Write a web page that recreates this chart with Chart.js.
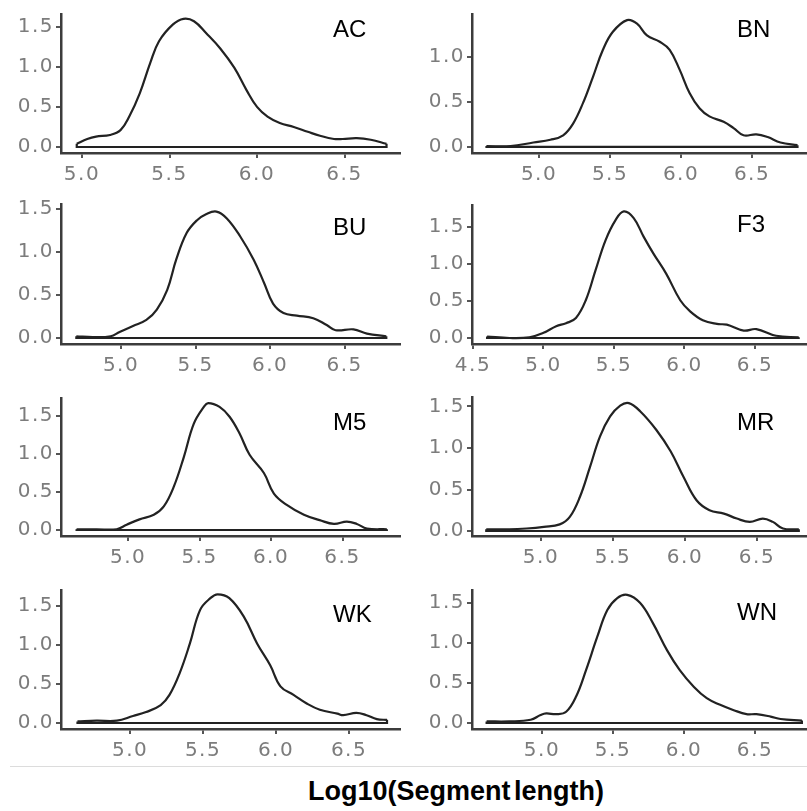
<!DOCTYPE html>
<html>
<head>
<meta charset="utf-8">
<script src="https://cdn.jsdelivr.net/npm/chart.js@4"></script>
<style>
  body { margin: 0; background: #fff; width: 807px; height: 811px; position: relative; overflow: hidden; }
  canvas.panel { position: absolute; }
  .lab { position: absolute; font: 24px "Liberation Sans", Arial, sans-serif; line-height: 24px; color: #000; white-space: nowrap; }
  #xtitle { position: absolute; left: 308px; top: 778px; font: bold 27px "Liberation Sans", Arial, sans-serif; line-height: 27px; word-spacing: -4px; color: #000; white-space: nowrap; }
  #rule { position: absolute; left: 10px; top: 766px; width: 797px; height: 1px; background: #dcdcdc; }
</style>
</head>
<body>
<div id="rule"></div>
<div id="xtitle">Log10(Segment length)</div>

<script>
// density curves per sample
const panelNames = ['AC', 'BN', 'BU', 'F3', 'M5', 'MR', 'WK', 'WN'];

const xAC = [4.97, 5.03, 5.08, 5.16, 5.22, 5.27, 5.33, 5.39, 5.44, 5.52, 5.58, 5.64, 5.71, 5.79, 5.87, 5.94, 6.00, 6.06, 6.13, 6.21, 6.29, 6.36, 6.44, 6.49, 6.57, 6.65, 6.74];
const yAC = [0.04, 0.10, 0.13, 0.15, 0.21, 0.38, 0.67, 1.05, 1.32, 1.53, 1.60, 1.57, 1.42, 1.23, 0.99, 0.71, 0.50, 0.38, 0.30, 0.25, 0.19, 0.14, 0.10, 0.10, 0.11, 0.09, 0.04];

const xBN = [4.63, 4.80, 4.96, 5.08, 5.17, 5.24, 5.31, 5.38, 5.45, 5.52, 5.62, 5.69, 5.76, 5.85, 5.92, 5.99, 6.06, 6.13, 6.20, 6.30, 6.37, 6.44, 6.53, 6.61, 6.70, 6.82];
const yBN = [0.01, 0.01, 0.05, 0.08, 0.13, 0.26, 0.49, 0.78, 1.08, 1.28, 1.41, 1.37, 1.24, 1.17, 1.08, 0.86, 0.60, 0.43, 0.34, 0.28, 0.21, 0.13, 0.14, 0.11, 0.05, 0.02];

const xBU = [4.70, 4.81, 4.93, 4.99, 5.08, 5.17, 5.24, 5.31, 5.37, 5.44, 5.51, 5.57, 5.64, 5.71, 5.80, 5.89, 5.96, 6.02, 6.09, 6.18, 6.29, 6.38, 6.44, 6.56, 6.65, 6.78];
const yBU = [0.02, 0.01, 0.02, 0.07, 0.14, 0.21, 0.33, 0.56, 0.91, 1.22, 1.37, 1.44, 1.47, 1.39, 1.18, 0.91, 0.64, 0.40, 0.29, 0.26, 0.23, 0.15, 0.09, 0.10, 0.05, 0.02];

const xF3 = [4.60, 4.76, 4.90, 5.00, 5.09, 5.16, 5.23, 5.30, 5.37, 5.44, 5.51, 5.57, 5.64, 5.71, 5.78, 5.87, 5.97, 6.04, 6.13, 6.23, 6.30, 6.42, 6.51, 6.65, 6.81];
const yF3 = [0.02, 0.00, 0.01, 0.07, 0.16, 0.20, 0.27, 0.51, 0.92, 1.32, 1.59, 1.71, 1.62, 1.37, 1.14, 0.87, 0.51, 0.36, 0.24, 0.19, 0.18, 0.10, 0.12, 0.03, 0.01];

const xM5 = [4.64, 4.78, 4.92, 4.99, 5.08, 5.18, 5.25, 5.32, 5.39, 5.46, 5.53, 5.56, 5.64, 5.71, 5.78, 5.85, 5.95, 6.02, 6.11, 6.23, 6.34, 6.44, 6.53, 6.60, 6.67, 6.81];
const yM5 = [0.01, 0.01, 0.01, 0.07, 0.14, 0.20, 0.31, 0.57, 0.96, 1.40, 1.62, 1.67, 1.62, 1.49, 1.27, 0.99, 0.75, 0.48, 0.33, 0.20, 0.13, 0.08, 0.11, 0.08, 0.02, 0.01];

const xMR = [4.62, 4.78, 4.90, 5.02, 5.13, 5.20, 5.27, 5.34, 5.41, 5.48, 5.55, 5.61, 5.69, 5.80, 5.90, 5.99, 6.08, 6.17, 6.27, 6.36, 6.45, 6.54, 6.61, 6.68, 6.79];
const yMR = [0.02, 0.02, 0.03, 0.05, 0.08, 0.17, 0.41, 0.77, 1.14, 1.38, 1.51, 1.54, 1.44, 1.22, 0.96, 0.65, 0.37, 0.25, 0.21, 0.15, 0.11, 0.15, 0.11, 0.03, 0.02];

const xWK = [4.64, 4.77, 4.91, 5.02, 5.11, 5.21, 5.27, 5.34, 5.41, 5.48, 5.55, 5.60, 5.68, 5.78, 5.87, 5.96, 6.03, 6.12, 6.21, 6.30, 6.42, 6.46, 6.55, 6.62, 6.69, 6.76];
const yWK = [0.02, 0.03, 0.03, 0.09, 0.14, 0.23, 0.36, 0.64, 1.02, 1.45, 1.60, 1.65, 1.60, 1.36, 1.02, 0.74, 0.47, 0.36, 0.25, 0.17, 0.12, 0.10, 0.13, 0.10, 0.05, 0.04];

const xWN = [4.61, 4.77, 4.92, 4.99, 5.03, 5.10, 5.17, 5.24, 5.31, 5.39, 5.46, 5.53, 5.60, 5.69, 5.78, 5.88, 5.97, 6.07, 6.16, 6.25, 6.35, 6.44, 6.51, 6.61, 6.68, 6.83];
const yWN = [0.02, 0.02, 0.04, 0.10, 0.12, 0.11, 0.14, 0.33, 0.66, 1.08, 1.41, 1.56, 1.60, 1.50, 1.25, 0.91, 0.66, 0.45, 0.31, 0.23, 0.16, 0.11, 0.11, 0.08, 0.05, 0.03];

// axis limits (ggplot expanded ranges)
const xMin = [4.88, 4.528, 4.597, 4.493, 4.531, 4.521, 4.527, 4.507];
const xMax = [6.817, 6.887, 6.872, 6.869, 6.902, 6.847, 6.849, 6.866];
const yMin = [-0.075, -0.067, -0.07, -0.081, -0.079, -0.06, -0.077, -0.075];
const yMax = [1.66, 1.478, 1.558, 1.797, 1.737, 1.614, 1.705, 1.66];
const tickStep = 0.5;

const xs = [xAC, xBN, xBU, xF3, xM5, xMR, xWK, xWN];
const ys = [yAC, yBN, yBU, yF3, yM5, yMR, yWK, yWN];

// page layout of each panel's plot box (px)
const plotLeft   = [61, 472, 61, 472, 61, 472, 61, 472];
const plotRight  = [400, 807, 400, 807, 400, 807, 400, 807];
const plotTop    = [14, 14, 204, 205, 398, 397, 590, 590];
const plotBottom = [153, 153, 344, 344, 536, 536, 729, 729];
const labelCapTop = [20, 20, 218, 215, 413, 413, 605, 603];

const CANVAS_H = 200;
const X_AXIS_H = 35;
const TOP_PAD = 14;

const onHalves = (scale) => {
  scale.ticks = scale.ticks.filter(t => Math.abs(t.value / tickStep - Math.round(t.value / tickStep)) < 1e-6);
};

// wider tick digits, like the original's font
const spacing = {
  id: 'spacing',
  beforeDraw: (chart) => { chart.ctx.letterSpacing = '1.5px'; }
};

panelNames.forEach((name, i) => {
  const col = i % 2;
  const cLeft = col === 0 ? 0 : 405;
  const cWidth = col === 0 ? 405 : 402;
  const cTop = plotTop[i] - TOP_PAD;

  const cv = document.createElement('canvas');
  cv.className = 'panel';
  cv.width = cWidth;
  cv.height = CANVAS_H;
  cv.style.left = cLeft + 'px';
  cv.style.top = cTop + 'px';
  document.body.appendChild(cv);

  const lab = document.createElement('div');
  lab.className = 'lab';
  lab.textContent = name;
  lab.style.left = (col === 0 ? 333 : 737) + 'px';
  lab.style.top = (labelCapTop[i] - 3) + 'px';
  document.body.appendChild(lab);

  const px = xs[i], py = ys[i];
  const n = px.length;
  const curve = px.map((v, k) => ({ x: v, y: py[k] }));
  // ggplot draws the density as a closed outline: drop to zero and run along the baseline
  const base = [
    { x: px[0], y: py[0] },
    { x: px[0], y: 0 },
    { x: px[n - 1], y: 0 },
    { x: px[n - 1], y: py[n - 1] }
  ];

  const yAxisW = plotLeft[i] - cLeft;
  const padRight = cLeft + cWidth - plotRight[i];
  const padBottom = CANVAS_H - (plotBottom[i] - cTop) - X_AXIS_H;

  const tickFont = { family: '"DejaVu Sans", sans-serif', size: 20 };

  new Chart(cv.getContext('2d'), {
    type: 'line',
    data: {
      datasets: [
        { data: curve, borderColor: '#222', borderWidth: 2.2, pointRadius: 0, tension: 0.4, fill: false },
        { data: base, borderColor: '#222', borderWidth: 2.2, pointRadius: 0, tension: 0, fill: false }
      ]
    },
    plugins: [spacing],
    options: {
      responsive: false,
      animation: false,
      devicePixelRatio: 1,
      layout: { padding: { top: TOP_PAD, right: padRight, bottom: padBottom, left: 0 } },
      plugins: { legend: { display: false }, tooltip: { enabled: false } },
      scales: {
        x: {
          type: 'linear',
          min: xMin[i],
          max: xMax[i],
          ticks: { stepSize: tickStep, includeBounds: false, color: '#7c7c7c', font: tickFont, padding: 5, maxRotation: 0,
                   callback: v => Number(v).toFixed(1) },
          grid: { drawOnChartArea: false, drawTicks: true, tickLength: 5, color: '#555', lineWidth: 2 },
          border: { display: true, color: '#3c3c3c', width: 2.5 },
          afterBuildTicks: onHalves,
          afterFit: s => { s.height = X_AXIS_H; }
        },
        y: {
          type: 'linear',
          min: yMin[i],
          max: yMax[i],
          ticks: { stepSize: tickStep, includeBounds: false, color: '#7c7c7c', font: tickFont, padding: 2,
                   callback: v => Number(v).toFixed(1) },
          grid: { drawOnChartArea: false, drawTicks: true, tickLength: 5, color: '#555', lineWidth: 2 },
          border: { display: true, color: '#3c3c3c', width: 2.5 },
          afterBuildTicks: onHalves,
          afterFit: s => { s.width = yAxisW; }
        }
      }
    }
  });
});
</script>
</body>
</html>
